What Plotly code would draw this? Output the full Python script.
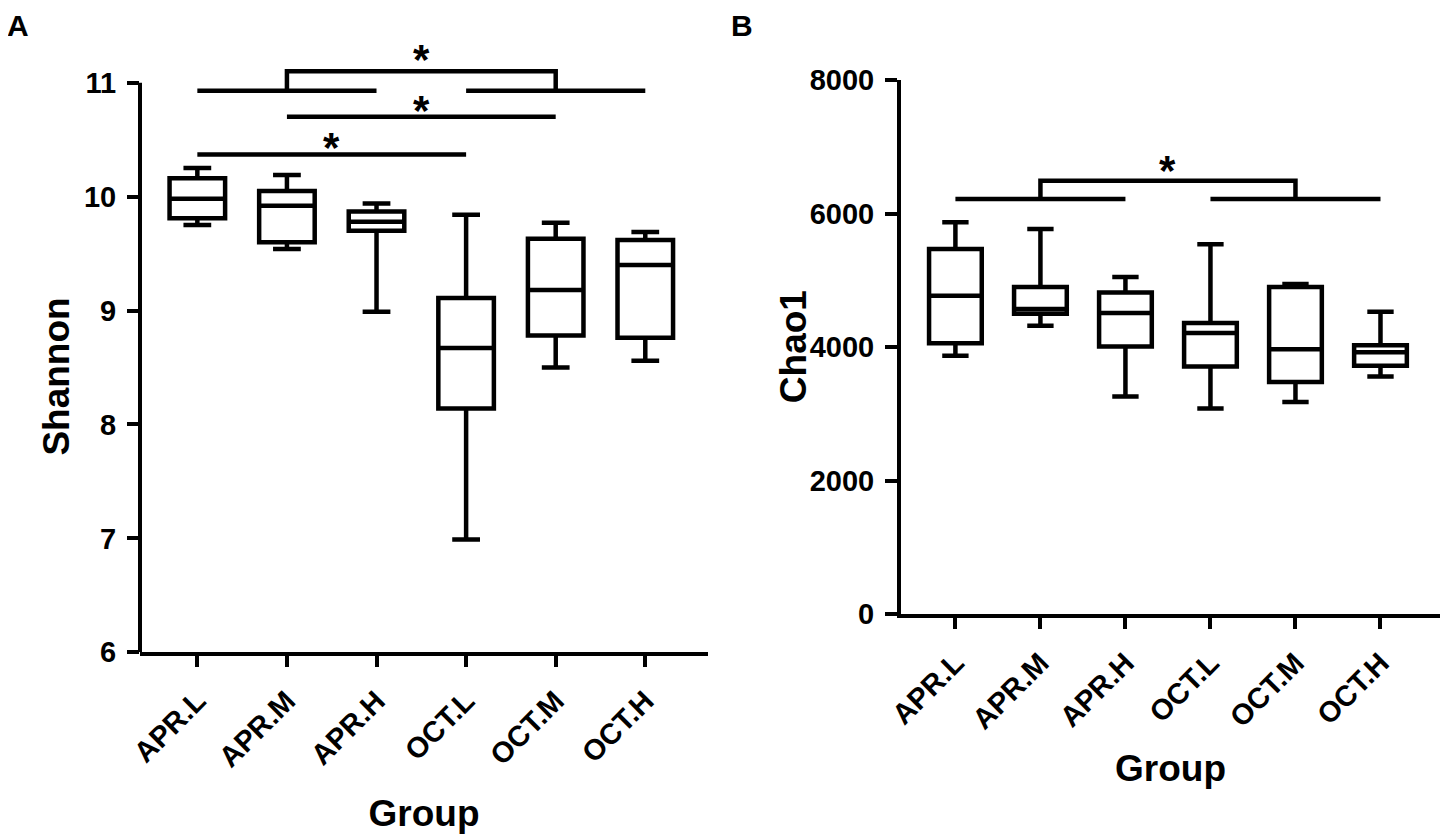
import plotly.graph_objects as go

# groups on the x axis (same for both panels)
groups = ["APR.L", "APR.M", "APR.H", "OCT.L", "OCT.M", "OCT.H"]

# panel A - Shannon index, box summary
shannon_low = [9.75, 9.54, 8.99, 6.99, 8.50, 8.56]
shannon_q1 = [9.81, 9.60, 9.70, 8.14, 8.78, 8.76]
shannon_med = [9.98, 9.92, 9.78, 8.67, 9.18, 9.40]
shannon_q3 = [10.16, 10.05, 9.87, 9.11, 9.63, 9.62]
shannon_high = [10.25, 10.19, 9.94, 9.84, 9.77, 9.69]

# panel B - Chao1 index
chao_low = [3870, 4320, 3260, 3080, 3180, 3560]
chao_q1 = [4060, 4500, 4010, 3710, 3480, 3720]
chao_med = [4770, 4570, 4510, 4210, 3970, 3925]
chao_q3 = [5470, 4900, 4820, 4360, 4900, 4030]
chao_high = [5870, 5770, 5050, 5540, 4945, 4530]

# significance bars (levels in data units)
sig_a_levels = [10.37, 10.70, 10.93, 11.10]
sig_a_stars = [10.48, 10.805, 11.26]
sig_b_levels = [6220, 6490]
sig_b_star = 6737

FONT = "Arial, Liberation Sans, sans-serif"
W, H = 1450, 838
OFF = 8  # page body margin in the browser


def px(p):
    return (p - OFF) / W


def py(q):
    return 1 - (q - OFF) / H


fig = go.Figure()

box_style = dict(line=dict(color="black", width=4.5), fillcolor="rgba(0,0,0,0)",
                 width=0.62, whiskerwidth=0.5, boxpoints=False, showlegend=False)

fig.add_trace(go.Box(x=groups, q1=shannon_q1, median=shannon_med, q3=shannon_q3,
                     lowerfence=shannon_low, upperfence=shannon_high,
                     xaxis="x", yaxis="y", **box_style))
fig.add_trace(go.Box(x=groups, q1=chao_q1, median=chao_med, q3=chao_q3,
                     lowerfence=chao_low, upperfence=chao_high,
                     xaxis="x2", yaxis="y2", **box_style))

line_style = dict(mode="lines", line=dict(color="black", width=4.5),
                  showlegend=False, hoverinfo="skip")

# panel A bars
lo, mid, grp, top = sig_a_levels
fig.add_trace(go.Scatter(x=[groups[0], groups[3]], y=[lo, lo], xaxis="x", yaxis="y", **line_style))
fig.add_trace(go.Scatter(x=[groups[1], groups[4]], y=[mid, mid], xaxis="x", yaxis="y", **line_style))
fig.add_trace(go.Scatter(
    x=[groups[0], groups[2], None, groups[3], groups[5], None,
       groups[1], groups[1], groups[4], groups[4]],
    y=[grp, grp, None, grp, grp, None, grp, top, top, grp],
    xaxis="x", yaxis="y", **line_style))

# panel B bars
grp_b, top_b = sig_b_levels
fig.add_trace(go.Scatter(
    x=[groups[0], groups[2], None, groups[3], groups[5], None,
       groups[1], groups[1], groups[4], groups[4]],
    y=[grp_b, grp_b, None, grp_b, grp_b, None, grp_b, top_b, top_b, grp_b],
    xaxis="x2", yaxis="y2", **line_style))

# stars sit halfway between the bracket ends (x = 1.5 or 2.5 in category units)
star_font = dict(family=FONT, size=42, color="black", weight="bold")
annotations = []
for xs, ys in [(2.5, sig_a_stars[2]), (2.5, sig_a_stars[1]), (1.5, sig_a_stars[0])]:
    annotations.append(dict(x=xs, y=ys, xref="x", yref="y", text="*", showarrow=False,
                            font=star_font, yanchor="middle", yshift=-6))
annotations.append(dict(x=2.5, y=sig_b_star, xref="x2", yref="y2", text="*", showarrow=False,
                        font=star_font, yanchor="middle", yshift=-6))

# panel letters
for letter, xpos in [("A", 18), ("B", 742)]:
    annotations.append(dict(x=px(xpos), y=1, xref="paper", yref="paper", text=letter,
                            showarrow=False, xanchor="center", yanchor="top", borderpad=0,
                            font=dict(family=FONT, size=30, color="black", weight="bold")))

tick_font = dict(family=FONT, size=29, color="black", weight="bold")
title_font = dict(family=FONT, size=37, color="black", weight="bold")

# y axis titles
annotations.append(dict(x=px(57), y=8.42, xref="paper", yref="y", text="Shannon",
                        textangle=-90, showarrow=False, xanchor="center", yanchor="middle",
                        font=title_font))
annotations.append(dict(x=px(793), y=4000, xref="paper", yref="y2", text="Chao1",
                        textangle=-90, showarrow=False, xanchor="center", yanchor="middle",
                        font=title_font))

xcommon = dict(type="category", categoryorder="array", categoryarray=groups,
               range=[-0.64, 5.70], showline=True, linewidth=4, linecolor="black",
               ticks="outside", ticklen=11, tickwidth=4, tickcolor="black",
               tickangle=-45, tickfont=tick_font, ticklabelstandoff=5,
               showgrid=False, zeroline=False, automargin=False)
ycommon = dict(ticks="outside", ticklen=12, tickwidth=4, tickcolor="black",
               tickfont=tick_font, ticklabelstandoff=5, showgrid=False, zeroline=False,
               linecolor="black", linewidth=4, automargin=False)

fig.update_layout(
    width=W, height=H,
    margin=dict(l=0, r=0, t=0, b=0),
    plot_bgcolor="white", paper_bgcolor="white",
    font=dict(family=FONT, color="black"),
    xaxis=dict(domain=[px(140), px(708)], anchor="y",
               title=dict(text="Group", font=title_font, standoff=29), **xcommon),
    yaxis=dict(domain=[py(652.3), py(37.1)], anchor="x", range=[6, 11.4],
               tickvals=[6, 7, 8, 9, 10, 11], showline=False, **ycommon),
    xaxis2=dict(domain=[px(901), px(1440)], anchor="y2",
                title=dict(text="Group", font=title_font, standoff=22), **xcommon),
    yaxis2=dict(domain=[py(614.3), py(80)], anchor="x2", range=[0, 8000],
                tickvals=[0, 2000, 4000, 6000, 8000], showline=True, **ycommon),
    annotations=annotations,
    shapes=[dict(type="line", xref="x domain", yref="y", x0=0, x1=0, y0=6, y1=11,
                 line=dict(color="black", width=4))],
)

fig.write_html("out.html")
